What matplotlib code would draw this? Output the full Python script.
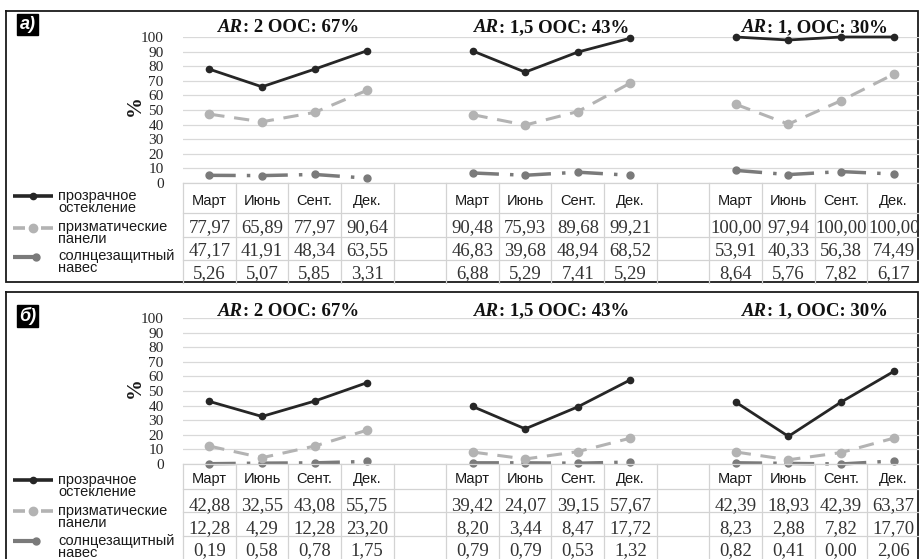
import matplotlib
matplotlib.use('Agg')
import matplotlib.pyplot as plt
from matplotlib.offsetbox import TextArea, HPacker, AnnotationBbox
from matplotlib import font_manager

# ---------------- data ----------------
months = ['Март', 'Июнь', 'Сент.', 'Дек.']
group_titles = [': 2 ООС: 67%', ': 1,5 ООС: 43%', ': 1, ООС: 30%']
series_names = ['прозрачное\nостекление', 'призматические\nпанели', 'солнцезащитный\nнавес']
panel_labels = ['а)', 'б)']
yticks = [0, 10, 20, 30, 40, 50, 60, 70, 80, 90, 100]

a_glazing = [77.97, 65.89, 77.97, 90.64, 90.48, 75.93, 89.68, 99.21, 100.00, 97.94, 100.00, 100.00]
a_prism = [47.17, 41.91, 48.34, 63.55, 46.83, 39.68, 48.94, 68.52, 53.91, 40.33, 56.38, 74.49]
a_awning = [5.26, 5.07, 5.85, 3.31, 6.88, 5.29, 7.41, 5.29, 8.64, 5.76, 7.82, 6.17]

b_glazing = [42.88, 32.55, 43.08, 55.75, 39.42, 24.07, 39.15, 57.67, 42.39, 18.93, 42.39, 63.37]
b_prism = [12.28, 4.29, 12.28, 23.20, 8.20, 3.44, 8.47, 17.72, 8.23, 2.88, 7.82, 17.70]
b_awning = [0.19, 0.58, 0.78, 1.75, 0.79, 0.79, 0.53, 1.32, 0.82, 0.41, 0.00, 2.06]

panel_data = [[a_glazing, a_prism, a_awning], [b_glazing, b_prism, b_awning]]

# ---------------- style ----------------
names = {f.name for f in font_manager.fontManager.ttflist}
SANS = 'Liberation Sans Narrow' if 'Liberation Sans Narrow' in names else 'Liberation Sans'
SERIF = 'Liberation Serif'
plt.rcParams['lines.scale_dashes'] = False

styles = [
    dict(color='#262626', lw=2.0, ls='-', marker='o', ms=4.5),
    dict(color='#b3b3b3', lw=2.2, ls=(0, (11, 7)), marker='o', ms=6.0),
    dict(color='#7a7a7a', lw=2.5, ls=(0, (19, 8, 2.5, 8)), marker='o', ms=5.0),
]

W, H = 920, 559
fig = plt.figure(figsize=(9.2, 5.59), dpi=100)


def rect(x0, y0, x1, y1):
    return [x0 / W, 1 - y1 / H, (x1 - x0) / W, (y1 - y0) / H]


# overlay (figure pixel coords) for frames, labels and legend
ov = fig.add_axes([0, 0, 1, 1])
ov.set_xlim(0, W)
ov.set_ylim(H, 0)
ov.axis('off')

layout = [
    dict(box=(6.5, 10.5, 918.5, 282), chart=(183, 37, 920, 183), table_top=183,
         table_bottom=283, hlines=[30, 54, 77], text_y=[201, 228, 251, 274],
         label_xy=(27.5, 24.5), pct_xy=(135, 106), title_y=28,
         key_y=[196, 228, 257], text_top=[189, 220, 249]),
    dict(box=(6.5, 291.5, 918.5, 565), chart=(183, 318, 920, 464), table_top=464,
         table_bottom=562, hlines=[25, 48, 72], text_y=[479, 506, 529, 551],
         label_xy=(27.5, 316), pct_xy=(135, 388), title_y=311,
         key_y=[480, 511, 541], text_top=[473, 504, 534]),
]

ncols = 14
for p, L in enumerate(layout):
    # frame
    x0, y0, x1, y1 = L['box']
    ov.plot([x0, x1, x1, x0, x0], [y0, y0, y1, y1, y0], color='#1a1a1a', lw=1.3,
            solid_joinstyle='miter', clip_on=False)
    # panel label
    ov.text(*L['label_xy'], panel_labels[p], color='white', fontsize=13, weight='bold',
            style='italic', family='Liberation Sans', ha='center', va='center',
            bbox=dict(boxstyle='square,pad=0.12', fc='black', ec='black'))
    # % label
    ov.text(*L['pct_xy'], '%', rotation=90, family=SERIF, weight='bold', fontsize=15,
            ha='center', va='center', color='#1a1a1a')

    # chart axes
    ax = fig.add_axes(rect(*L['chart']))
    ax.set_facecolor('none')
    ax.set_xlim(-0.5, ncols - 0.5)
    ax.set_ylim(0, 100)
    for s in ax.spines.values():
        s.set_visible(False)
    ax.set_xticks([])
    ax.set_yticks(yticks)
    ax.set_yticklabels([str(t) for t in yticks], family=SERIF, fontsize=11, color='#262626')
    ax.tick_params(axis='y', length=0, pad=14)
    ax.yaxis.grid(True, color='#d9d9d9', lw=0.9)
    ax.set_axisbelow(True)

    for si, vals in enumerate(panel_data[p]):
        st = styles[si]
        for g in range(3):
            xs = [g * 5 + i for i in range(4)]
            ys = vals[g * 4:(g + 1) * 4]
            ax.plot(xs, ys, color=st['color'], lw=st['lw'], ls=st['ls'], marker=st['marker'],
                    ms=st['ms'], mfc=st['color'], mec=st['color'], clip_on=False,
                    zorder=5 - si)

    for g in range(3):
        ta1 = TextArea('AR', textprops=dict(family=SERIF, weight='bold', style='italic',
                                            size=13.5, color='#111111'))
        ta2 = TextArea(group_titles[g], textprops=dict(family=SERIF, weight='bold',
                                                       size=13.5, color='#111111'))
        box = HPacker(children=[ta1, ta2], pad=0, sep=0, align='baseline')
        ty = (L['chart'][3] - L['title_y']) / (L['chart'][3] - L['chart'][1]) * 100
        ab = AnnotationBbox(box, (g * 5 + 1.5, ty), xycoords='data', frameon=False,
                            box_alignment=(0.5, 0.5), annotation_clip=False, zorder=10)
        ax.add_artist(ab)

    # table axes (y in pixel offsets from table top)
    tb = fig.add_axes(rect(183, L['table_top'], 920, L['table_bottom']))
    tb.set_facecolor('none')
    tb.axis('off')
    th = L['table_bottom'] - L['table_top']
    tb.set_xlim(-0.5, ncols - 0.5)
    tb.set_ylim(th, 0)
    for k in range(ncols + 1):
        tb.plot([k - 0.5, k - 0.5], [0, th], color='#d3d3d3', lw=0.9, clip_on=False)
    for yy in [0] + L['hlines']:
        tb.plot([-0.5, ncols - 0.5], [yy, yy], color='#d3d3d3', lw=0.9, clip_on=False)

    ty_rows = [v - L['table_top'] for v in L['text_y']]
    for g in range(3):
        for i in range(4):
            xc = g * 5 + i
            tb.text(xc, ty_rows[0], months[i], family=SANS, fontsize=10.5, ha='center',
                    va='center', color='#1a1a1a')
            for si, vals in enumerate(panel_data[p]):
                txt = f"{vals[g * 4 + i]:.2f}".replace('.', ',')
                tb.text(xc, ty_rows[si + 1], txt, family=SERIF, fontsize=13.5, ha='center',
                        va='center', color='#333333')

    # legend
    for si in range(3):
        st = styles[si]
        ky = L['key_y'][si]
        if si == 0:
            ov.plot([13, 53], [ky, ky], color=st['color'], lw=2.6, solid_capstyle='butt')
            ov.plot([33], [ky], 'o', color=st['color'], ms=st['ms'])
        elif si == 1:
            ov.plot([13, 25], [ky, ky], color=st['color'], lw=2.6, solid_capstyle='butt')
            ov.plot([41, 53], [ky, ky], color=st['color'], lw=2.6, solid_capstyle='butt')
            ov.plot([33], [ky], 'o', color=st['color'], ms=st['ms'])
        else:
            ov.plot([13, 36], [ky, ky], color=st['color'], lw=3.0, solid_capstyle='butt')
            ov.plot([36], [ky], 'o', color=st['color'], ms=st['ms'])
        ov.text(58, L['text_top'][si], series_names[si], family='Liberation Sans',
                fontsize=10.5, ha='left', va='top', linespacing=0.82, color='#1a1a1a')

fig.savefig('out.png', dpi=100)
